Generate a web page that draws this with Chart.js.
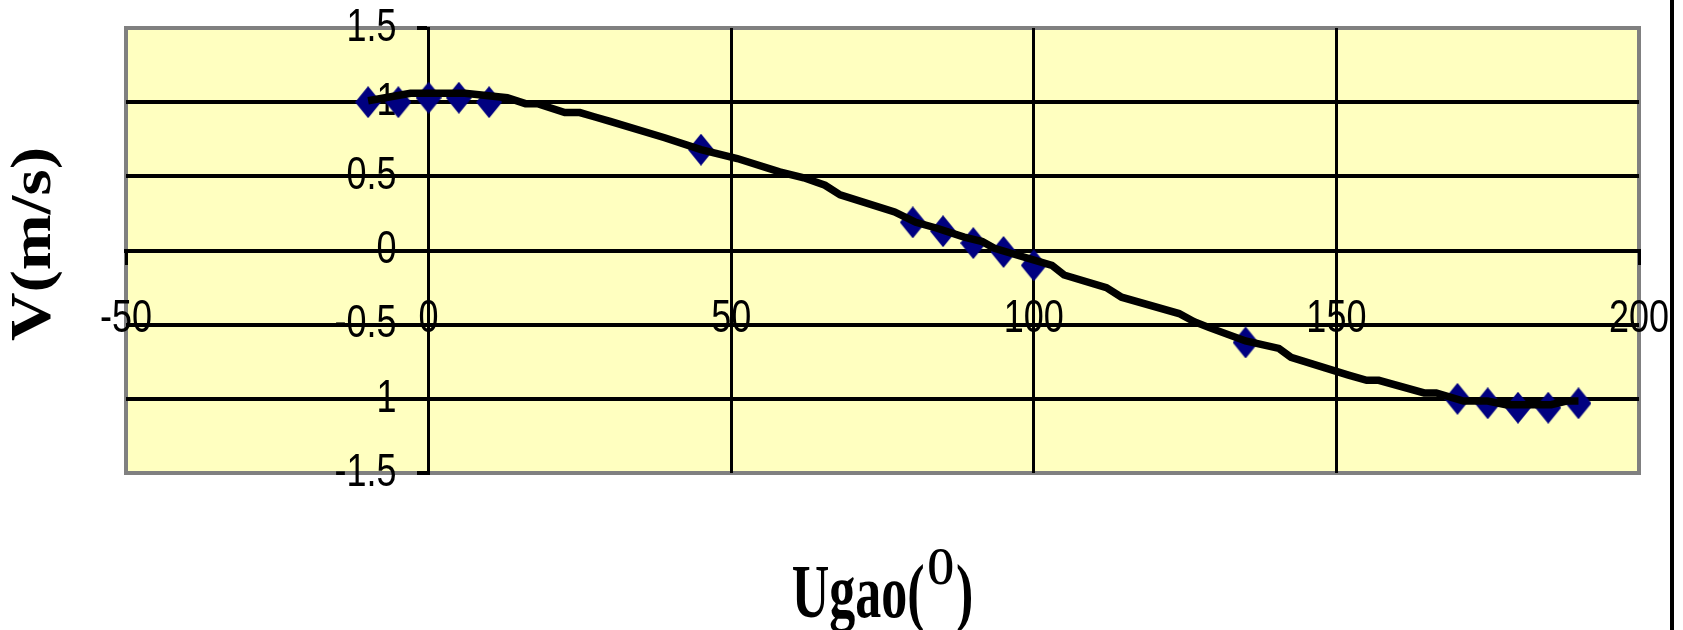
<!DOCTYPE html>
<html>
<head>
<meta charset="utf-8">
<script src="https://cdn.jsdelivr.net/npm/chart.js@4.4.1/dist/chart.umd.min.js"></script>
<style>
  html, body { margin: 0; padding: 0; background: #fff; }
  #wrap { width: 1683px; height: 630px; }
</style>
</head>
<body>
<div id="wrap"><canvas id="speedChart" width="1683" height="630"></canvas></div>
<script>
// measured points (diamonds)
var markerAngles=[ -10, -5, 0, 5, 10, 45, 80, 85, 90, 95, 100, 135, 170, 175, 180, 185, 190 ];
var markerSpeeds=[ 1.0, 1.0, 1.03, 1.03, 1.0, 0.68, 0.19, 0.13, 0.05, -0.01, -0.1, -0.62, -1.0, -1.03, -1.06, -1.06, -1.03 ];

// black curve
var curveAngles=[ -10, -3, 6, 13, 16, 18, 22.5, 25, 27.5, 30, 39, 45, 51, 58, 62, 65.5, 68, 77, 80.5, 84, 88.5, 91.5, 93.5,
        103, 105, 112, 114.5, 124, 126.5, 129, 135, 140.5, 142.5, 152, 155, 157, 164.5, 166.5, 171, 175, 178, 185.5, 188, 190 ];
var curveSpeeds=[ 1.01, 1.06, 1.06, 1.03, 0.99, 0.99, 0.93, 0.93, 0.9, 0.87, 0.76, 0.68, 0.62, 0.53, 0.49, 0.44, 0.375, 0.26, 0.19, 0.15, 0.09, 0.06, 0.015,
        -0.1, -0.165, -0.25, -0.315, -0.425, -0.48, -0.52, -0.61, -0.66, -0.72, -0.84, -0.875, -0.875, -0.96, -0.96, -1.015, -1.015, -1.04, -1.04, -1.015, -1.015 ];

var xTicks=[ -50, 0, 50, 100, 150, 200 ];
var yTicks=[ -1.5, -1, -0.5, 0, 0.5, 1, 1.5 ];

var tickFont={ family: "'Liberation Sans', Arial, sans-serif", size: 36 };

// diamond marker, a bit taller than wide
var diamond=document.createElement( 'canvas' );
diamond.width=26;
diamond.height=32;
( function ()
{
        var d=diamond.getContext( '2d' );
        d.fillStyle='#000080';
        d.beginPath();
        d.moveTo( 13, 0 );
        d.lineTo( 26, 16 );
        d.lineTo( 13, 32 );
        d.lineTo( 0, 16 );
        d.closePath();
        d.fill();
} )();

// the original text is stretched upright, so stretch tick labels the same way
// dx: extra shift (y labels sit right on a crossing axis otherwise)
function tallLabels( scale, dx )
{
        if ( !scale||scale._tall ) return;
        scale._tall=true;
        var orig=scale.drawLabels.bind( scale );
        scale.drawLabels=function ( area )
        {
                var c=this.ctx;
                var ft=c.fillText;
                c.fillText=function ( t, x, y )
                {
                        this.save();
                        this.translate( x+dx, y );
                        this.scale( 1, 1.28 );
                        ft.call( this, t, 0, 0 );
                        this.restore();
                };
                orig( area );
                c.fillText=ft;
        };
}

// keep the tick labels from pushing the plot area in
function noPad( s )
{
        s.paddingTop=0;
        s.paddingBottom=0;
        s.paddingLeft=0;
        s.paddingRight=0;
}

var plotFrame={
        id: 'plotFrame',
        beforeDraw: function ( chart )
        {
                tallLabels( chart.scales.x, 0 );
                tallLabels( chart.scales.y, -32 );
                var c=chart.ctx, a=chart.chartArea;
                c.save();
                c.fillStyle='#FFFFC0';
                c.fillRect( a.left, a.top, a.right-a.left, a.bottom-a.top );
                c.strokeStyle='#808080';
                c.lineWidth=4;
                c.strokeRect( a.left, a.top, a.right-a.left, a.bottom-a.top );
                c.restore();
        },
        afterDraw: function ( chart )
        {
                var c=chart.ctx, a=chart.chartArea;
                c.save();
                c.fillStyle='#000';
                // page frame line on the right
                c.fillRect( chart.width-13, 0, 4, chart.height );

                // y title
                c.save();
                c.translate( 50, 244 );
                c.rotate( -Math.PI/2 );
                c.scale( 1.2, 1 );
                c.font="bold 56px 'Liberation Serif', 'Times New Roman', serif";
                c.textAlign='center';
                c.textBaseline='alphabetic';
                c.fillText( 'V(m/s)', 0, 0 );
                c.restore();

                // x title with superscript
                var big="bold 52px 'Liberation Serif', 'Times New Roman', serif";
                var sup="bold 34px 'Liberation Serif', 'Times New Roman', serif";
                c.font=big;
                var w1=c.measureText( 'Ugao(' ).width;
                var w3=c.measureText( ')' ).width;
                c.font=sup;
                var w2=c.measureText( 'O' ).width;
                var gap=3;
                var total=w1+gap+w2+2+w3;
                var x0=( a.left+a.right )/2-total/2;
                c.textAlign='left';
                c.textBaseline='alphabetic';
                c.save();
                c.translate( x0, 617 );
                c.scale( 1, 1.45 );
                c.font=big;
                c.fillText( 'Ugao(', 0, 0 );
                c.fillText( ')', w1+gap+w2+2, 0 );
                c.restore();
                c.save();
                c.translate( x0+w1+gap, 584 );
                c.scale( 1, 1.55 );
                c.font=sup;
                c.fillText( 'O', 0, 0 );
                c.restore();
                c.restore();
        }
};

var ctx=document.getElementById( 'speedChart' ).getContext( '2d' );
var speedChart=new Chart( ctx, {
        type: 'scatter',
        plugins: [ plotFrame ],
        data: {
                datasets: [ {
                        label: 'curve',
                        data: curveAngles.map( ( x, i ) => ( { x: x, y: curveSpeeds[ i ] } ) ),
                        showLine: true,
                        borderColor: '#000',
                        borderWidth: 7.5,
                        pointRadius: 0,
                        tension: 0,
                        order: 0
                },
                {
                        label: 'measured',
                        data: markerAngles.map( ( x, i ) => ( { x: x, y: markerSpeeds[ i ] } ) ),
                        pointStyle: diamond,
                        pointRadius: 13,
                        order: 1
                } ]
        },
        options: {
                responsive: false,
                animation: false,
                devicePixelRatio: 1,
                layout: { padding: { left: 126, right: 44, top: 28, bottom: 157 } },
                plugins: {
                        legend: { display: false },
                        tooltip: { enabled: false }
                },
                scales: {
                        x: {
                                type: 'linear',
                                min: -50,
                                max: 200,
                                position: { y: 0 },
                                afterBuildTicks: function ( s ) { s.ticks=xTicks.map( v => ( { value: v } ) ); },
                                afterFit: noPad,
                                ticks: {
                                        color: '#000',
                                        font: tickFont,
                                        padding: 35,
                                        maxRotation: 0,
                                        autoSkip: false,
                                        callback: v => String( v )
                                },
                                grid: {
                                        color: c => ( c.tick && ( c.tick.value===-50||c.tick.value===200 ) ) ? 'rgba(0,0,0,0)' : '#000',
                                        tickColor: '#000',
                                        lineWidth: 3,
                                        tickLength: 12
                                },
                                border: { color: '#000', width: 4 }
                        },
                        y: {
                                type: 'linear',
                                min: -1.5,
                                max: 1.5,
                                position: { x: 0 },
                                afterBuildTicks: function ( s ) { s.ticks=yTicks.map( v => ( { value: v } ) ); },
                                afterFit: noPad,
                                ticks: {
                                        color: '#000',
                                        font: tickFont,
                                        padding: 22,
                                        autoSkip: false,
                                        callback: v => String( v )
                                },
                                grid: {
                                        color: c => ( c.tick && Math.abs( c.tick.value )===1.5 ) ? 'rgba(0,0,0,0)' : '#000',
                                        tickColor: '#000',
                                        lineWidth: 4,
                                        tickLength: 10
                                },
                                border: { color: '#000', width: 3 }
                        }
                }
        }
} );
</script>
</body>
</html>
